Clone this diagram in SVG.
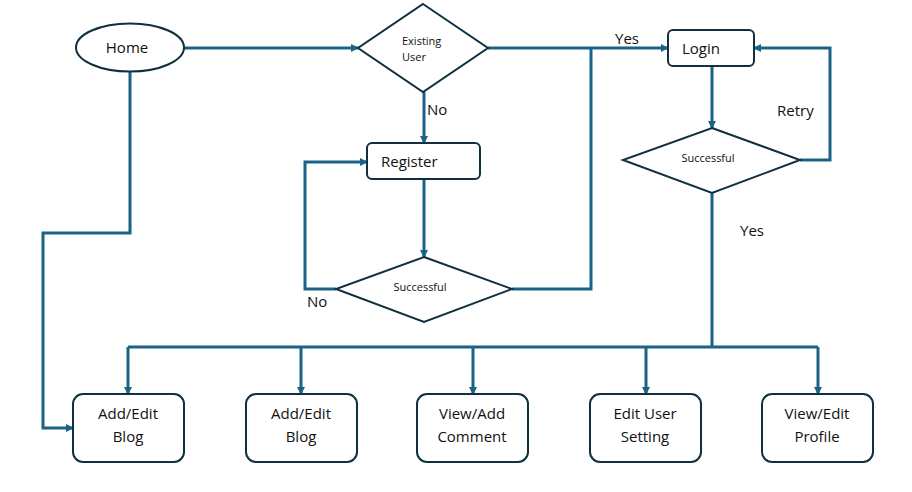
<svg xmlns="http://www.w3.org/2000/svg" width="912" height="492" viewBox="0 0 912 492">
<defs>
<marker id="ah" markerWidth="8" markerHeight="8" refX="7" refY="4" orient="auto" markerUnits="userSpaceOnUse" viewBox="0 0 8 8">
<path d="M0,0 L8,4 L0,8 Z" fill="#1b6386"/>
</marker>
<style>
.shape{fill:#fff;stroke:#10303f;stroke-width:2}
.conn{fill:none;stroke:#1b6386;stroke-width:3}
.arr{marker-end:url(#ah)}
.t{font-family:"Open Sans","Noto Sans","Liberation Sans",sans-serif;fill:#111;}
.big{font-size:15px}
.small{font-size:11px}
.c{text-anchor:middle}
</style>
</defs>
<rect width="912" height="492" fill="#fff"/>
<g id="connectors">
<path class="conn arr" d="M184,48 H358"/>
<path class="conn arr" d="M424,92 V143"/>
<path class="conn arr" d="M424,179 V257"/>
<path class="conn arr" d="M336,289 H305 V162 H367"/>
<path class="conn" d="M512,289 H591 V48"/>
<path class="conn arr" d="M488,48 H668"/>
<path class="conn arr" d="M712,66 V128"/>
<path class="conn arr" d="M800,160 H830 V48 H754"/>
<path class="conn" d="M712,193 V347"/>
<path class="conn" d="M128,347 H818"/>
<path class="conn arr" d="M128,347 V394"/>
<path class="conn arr" d="M301,347 V394"/>
<path class="conn arr" d="M473,347 V394"/>
<path class="conn arr" d="M646,347 V394"/>
<path class="conn arr" d="M818,347 V394"/>
<path class="conn arr" d="M130,71 V233 H43 V428 H73"/>
<text class="t big" x="427" y="115">No</text>
<text class="t big" x="307" y="307">No</text>
<text class="t big" x="615" y="44">Yes</text>
<text class="t big" x="777" y="116">Retry</text>
<text class="t big" x="740" y="236">Yes</text>
</g>
<g id="home">
<ellipse class="shape" cx="130" cy="47.5" rx="54" ry="24"/>
<text class="t big c" x="127" y="53">Home</text>
</g>
<g id="existing-user">
<polygon class="shape" points="423,4 488,48 423,92 358,48"/>
<text class="t small" x="402" y="45">Existing</text>
<text class="t small" x="402" y="61">User</text>
</g>
<g id="register">
<rect class="shape" x="367" y="143" width="113" height="36" rx="5"/>
<text class="t big" x="381" y="167">Register</text>
</g>
<g id="register-successful">
<polygon class="shape" points="424,257 512,289 424,322 336,289"/>
<text class="t small c" x="420" y="291">Successful</text>
</g>
<g id="login">
<rect class="shape" x="668" y="30" width="86" height="36" rx="5"/>
<text class="t big" x="682" y="54">Login</text>
</g>
<g id="login-successful">
<polygon class="shape" points="712,128 800,160 712,193 623,160"/>
<text class="t small c" x="708" y="162">Successful</text>
</g>
<g id="box1">
<rect class="shape" x="73" y="394" width="111" height="68" rx="10"/>
<text class="t big c" x="128" y="419">Add/Edit</text>
<text class="t big c" x="128" y="442">Blog</text>
</g>
<g id="box2">
<rect class="shape" x="246" y="394" width="111" height="68" rx="10"/>
<text class="t big c" x="301" y="419">Add/Edit</text>
<text class="t big c" x="301" y="442">Blog</text>
</g>
<g id="box3">
<rect class="shape" x="417" y="394" width="111" height="68" rx="10"/>
<text class="t big c" x="472" y="419">View/Add</text>
<text class="t big c" x="472" y="442">Comment</text>
</g>
<g id="box4">
<rect class="shape" x="590" y="394" width="111" height="68" rx="10"/>
<text class="t big c" x="645" y="419">Edit User</text>
<text class="t big c" x="645" y="442">Setting</text>
</g>
<g id="box5">
<rect class="shape" x="762" y="394" width="111" height="68" rx="10"/>
<text class="t big c" x="817" y="419">View/Edit</text>
<text class="t big c" x="817" y="442">Profile</text>
</g>
</svg>
